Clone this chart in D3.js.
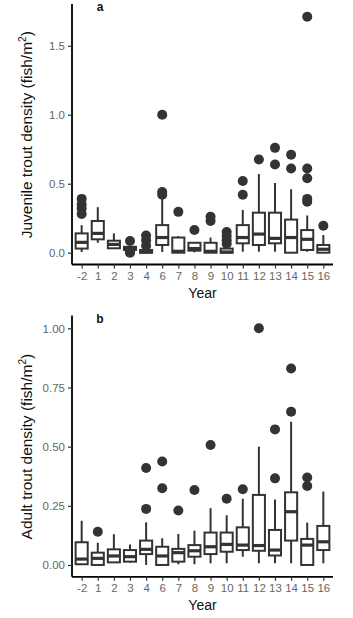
<!DOCTYPE html>
<html>
<head>
<meta charset="utf-8">
<script src="https://cdn.jsdelivr.net/npm/d3@7"></script>
<style>
  body { margin: 0; background: #fff; }
  svg text { font-family: "Liberation Sans", Arial, sans-serif; }
</style>
</head>
<body>
<div id="chart"></div>
<script>
const years = ["-2", "1", "2", "3", "4", "6", "7", "8", "9", "10", "11", "12", "13", "14", "15", "16"];

// panel a: juvenile trout density, box stats per year
const juvLow    = [0.005, 0.072, 0.03, 0.015, 0, 0.005, 0, 0.003, 0, 0, 0.007, 0.007, 0.007, 0, 0.007, 0];
const juvQ1     = [0.03, 0.097, 0.032, 0.02, 0, 0.056, 0, 0.015, 0, 0, 0.068, 0.056, 0.068, 0, 0.02, 0];
const juvMedian = [0.075, 0.14, 0.06, 0.03, 0.005, 0.11, 0.01, 0.03, 0.01, 0.005, 0.11, 0.135, 0.104, 0.11, 0.097, 0.025];
const juvQ3     = [0.14, 0.23, 0.087, 0.043, 0.02, 0.2, 0.11, 0.072, 0.072, 0.03, 0.2, 0.29, 0.29, 0.24, 0.164, 0.056];
const juvHigh   = [0.2, 0.33, 0.14, 0.05, 0.03, 0.4, 0.12, 0.072, 0.11, 0.04, 0.31, 0.57, 0.506, 0.46, 0.27, 0.128];
const juvOut    = [[0.39, 0.35, 0.32, 0.28], [], [], [0.085, 0.0, 0.005], [0.125, 0.09, 0.05], [1.0, 0.44, 0.42],
                   [0.296], [0.164], [0.26, 0.23], [0.15, 0.12, 0.09, 0.065], [0.52, 0.42], [0.675],
                   [0.76, 0.64], [0.71, 0.61], [1.71, 0.61, 0.54, 0.39, 0.37], [0.195]];

// panel b: adult trout density
const adLow    = [0, 0, 0.011, 0.01, 0, 0, 0.003, 0.003, 0.007, 0.007, 0.035, 0.007, 0.007, 0.007, 0, 0.007];
const adQ1     = [0.003, 0, 0.011, 0.014, 0.046, 0, 0.014, 0.035, 0.046, 0.056, 0.063, 0.06, 0.04, 0.103, 0, 0.063];
const adMedian = [0.025, 0.028, 0.038, 0.035, 0.066, 0.038, 0.052, 0.06, 0.077, 0.087, 0.084, 0.082, 0.063, 0.225, 0.084, 0.098];
const adQ3     = [0.096, 0.052, 0.066, 0.063, 0.103, 0.077, 0.068, 0.084, 0.137, 0.137, 0.159, 0.296, 0.148, 0.307, 0.11, 0.165];
const adHigh   = [0.187, 0.094, 0.13, 0.087, 0.18, 0.113, 0.131, 0.145, 0.24, 0.21, 0.28, 0.5, 0.277, 0.605, 0.179, 0.31];
const adOut    = [[], [0.14], [], [], [0.41, 0.237], [0.437, 0.324], [0.23], [0.317], [0.507], [0.28], [0.32],
                  [1.0], [0.573, 0.366], [0.83, 0.648], [0.37, 0.334], []];

const juvTicks = [0, 0.5, 1.0, 1.5];
const adTicks = [0, 0.25, 0.5, 0.75, 1.0];

const W = 353, H = 618;
const svg = d3.select("#chart").append("svg")
    .attr("width", W)
    .attr("height", H);

const ink = "#333333";

function panel(opts) {
    const x = d3.scalePoint()
        .domain(years)
        .range([72, 333])
        .padding(0.6);
    const y = d3.scaleLinear()
        .domain(opts.domain)
        .range([opts.bottom, opts.top]);
    const bw = x.step() * 0.75;

    const g = svg.append("g");

    const boxes = years.map((yr, i) => ({
        yr, low: opts.low[i], q1: opts.q1[i], med: opts.med[i], q3: opts.q3[i], high: opts.high[i], out: opts.out[i]
    }));

    const b = g.selectAll("g.box").data(boxes).enter().append("g");

    // whiskers
    b.append("line")
        .attr("x1", d => x(d.yr)).attr("x2", d => x(d.yr))
        .attr("y1", d => y(d.q3)).attr("y2", d => y(d.high))
        .attr("stroke", ink).attr("stroke-width", 2);
    b.append("line")
        .attr("x1", d => x(d.yr)).attr("x2", d => x(d.yr))
        .attr("y1", d => y(d.q1)).attr("y2", d => y(d.low))
        .attr("stroke", ink).attr("stroke-width", 2);

    b.append("rect")
        .attr("x", d => x(d.yr) - bw / 2)
        .attr("width", bw)
        .attr("y", d => y(d.q3))
        .attr("height", d => Math.max(0.5, y(d.q1) - y(d.q3)))
        .attr("fill", "#fff")
        .attr("stroke", ink)
        .attr("stroke-width", 2);

    b.append("line")
        .attr("x1", d => x(d.yr) - bw / 2).attr("x2", d => x(d.yr) + bw / 2)
        .attr("y1", d => y(d.med)).attr("y2", d => y(d.med))
        .attr("stroke", ink).attr("stroke-width", 3.2);

    // outliers
    b.selectAll("circle")
        .data(d => d.out.map(v => ({ yr: d.yr, v })))
        .enter().append("circle")
        .attr("cx", d => x(d.yr))
        .attr("cy", d => y(d.v))
        .attr("r", 5)
        .attr("fill", ink);

    // axes
    const yAxis = g.append("g")
        .attr("transform", "translate(72,0)")
        .call(d3.axisLeft(y).tickValues(opts.ticks).tickFormat(d3.format(opts.fmt)).tickSize(4).tickSizeOuter(0).tickPadding(3));
    const xAxis = g.append("g")
        .attr("transform", `translate(0,${opts.bottom})`)
        .call(d3.axisBottom(x).tickSize(4).tickSizeOuter(0).tickPadding(3));

    [yAxis, xAxis].forEach(ax => {
        ax.select(".domain").attr("stroke", "#000").attr("stroke-width", 1.8);
        ax.selectAll(".tick line").attr("stroke", ink).attr("stroke-width", 1.2);
        ax.selectAll(".tick text").attr("fill", "#666").style("font-size", "11.5px");
    });
    yAxis.select(".domain").attr("d", `M0,${opts.bottom}V${opts.top - 1}`);
    xAxis.select(".domain").attr("d", "M72,0H333");

    // panel tag
    g.append("text")
        .attr("x", 100)
        .attr("y", opts.top + 6)
        .attr("text-anchor", "middle")
        .style("font-size", "12px")
        .style("font-weight", "bold")
        .attr("fill", "#111")
        .text(opts.tag);

    // axis titles
    g.append("text")
        .attr("x", 202.5)
        .attr("y", opts.bottom + 33)
        .attr("text-anchor", "middle")
        .style("font-size", "14px")
        .attr("fill", "#111")
        .text("Year");

    const cy = (opts.top + opts.bottom) / 2;
    const t = g.append("text")
        .attr("transform", `translate(32,${cy}) rotate(-90)`)
        .attr("text-anchor", "middle")
        .style("font-size", "15.5px")
        .attr("fill", "#111");
    t.append("tspan").text(opts.title + " (fish/m");
    t.append("tspan").attr("dy", -6).style("font-size", "10px").text("2");
    t.append("tspan").attr("dy", 6).text(")");
}

panel({
    tag: "a", title: "Juvenile trout density",
    domain: [-0.0855, 1.7955], top: 5, bottom: 264.5,
    low: juvLow, q1: juvQ1, med: juvMedian, q3: juvQ3, high: juvHigh, out: juvOut,
    ticks: juvTicks, fmt: ".1f"
});

panel({
    tag: "b", title: "Adult trout density",
    domain: [-0.05, 1.05], top: 316.5, bottom: 576.8,
    low: adLow, q1: adQ1, med: adMedian, q3: adQ3, high: adHigh, out: adOut,
    ticks: adTicks, fmt: ".2f"
});
</script>
</body>
</html>
